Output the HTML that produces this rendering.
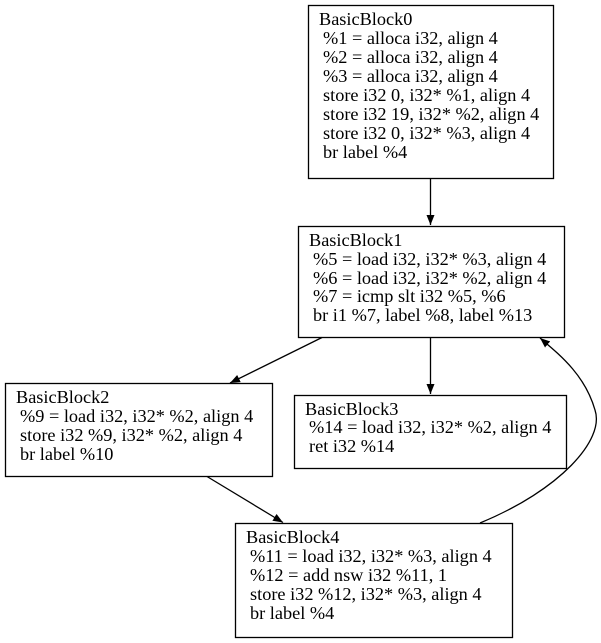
<!DOCTYPE html>
<html><head><meta charset="utf-8"><style>
html,body{margin:0;padding:0;background:#fff;}
svg{display:block}
text{font-family:"Liberation Serif",serif;font-size:18.3px;fill:#000}
</style></head><body>
<svg width="601" height="643" viewBox="0 0 601 643" xmlns="http://www.w3.org/2000/svg">
<defs><marker id="a" markerWidth="10" markerHeight="8" refX="10" refY="4" orient="auto" markerUnits="userSpaceOnUse"><path d="M0,0 L10,4 L0,8 z" fill="#000"/></marker></defs>
<g fill="none" stroke="#000" stroke-width="1.3">
<rect x="308.5" y="5.5" width="245" height="173"/>
<rect x="298.5" y="226.5" width="266" height="111"/>
<rect x="5.5" y="383.5" width="267" height="93"/>
<rect x="294.5" y="395.5" width="272" height="73"/>
<rect x="235.5" y="523.5" width="277" height="114"/>
<path d="M430.5,178.5 L430.5,225" marker-end="url(#a)"/>
<path d="M322,337.5 L230,383" marker-end="url(#a)"/>
<path d="M430.5,337.5 L430.5,394" marker-end="url(#a)"/>
<path d="M207,476.5 L283,522.5" marker-end="url(#a)"/>
<path d="M480,523 C560,490 605,440 595,410 C585,375 560,355 540,338" marker-end="url(#a)"/>
</g>
<text x="319" y="25">BasicBlock0</text>
<text x="323" y="44">%1 = alloca i32, align 4</text>
<text x="323" y="63">%2 = alloca i32, align 4</text>
<text x="323" y="82">%3 = alloca i32, align 4</text>
<text x="323" y="101">store i32 0, i32* %1, align 4</text>
<text x="323" y="120">store i32 19, i32* %2, align 4</text>
<text x="323" y="139">store i32 0, i32* %3, align 4</text>
<text x="323" y="158">br label %4</text>
<text x="309" y="246">BasicBlock1</text>
<text x="313" y="265">%5 = load i32, i32* %3, align 4</text>
<text x="313" y="284">%6 = load i32, i32* %2, align 4</text>
<text x="313" y="302">%7 = icmp slt i32 %5, %6</text>
<text x="313" y="321">br i1 %7, label %8, label %13</text>
<text x="16" y="403">BasicBlock2</text>
<text x="20" y="422">%9 = load i32, i32* %2, align 4</text>
<text x="20" y="441">store i32 %9, i32* %2, align 4</text>
<text x="20" y="460">br label %10</text>
<text x="305" y="415">BasicBlock3</text>
<text x="309" y="433">%14 = load i32, i32* %2, align 4</text>
<text x="309" y="452">ret i32 %14</text>
<text x="246" y="543">BasicBlock4</text>
<text x="250" y="562">%11 = load i32, i32* %3, align 4</text>
<text x="250" y="581">%12 = add nsw i32 %11, 1</text>
<text x="250" y="600">store i32 %12, i32* %3, align 4</text>
<text x="250" y="619">br label %4</text>
</svg>
</body></html>
